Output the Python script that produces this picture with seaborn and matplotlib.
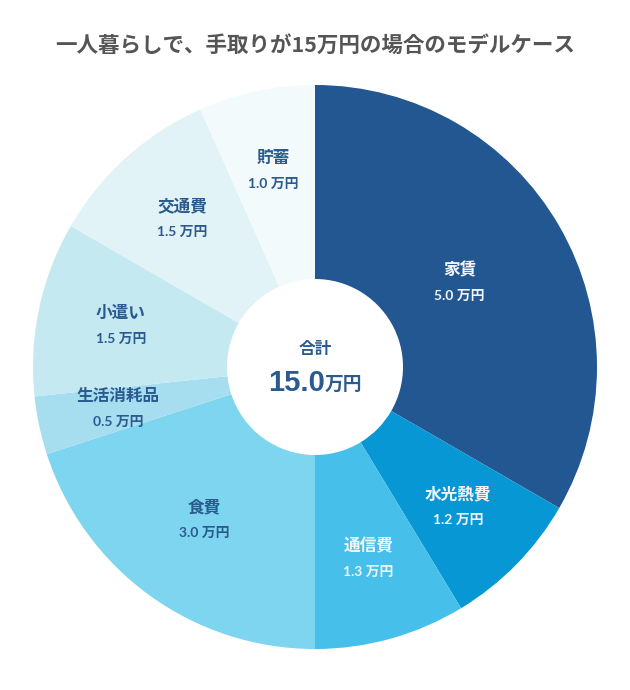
"""
Donut chart: monthly budget for a single person with 15万円 take-home pay
"""
import numpy as np
import matplotlib
matplotlib.use("Agg")
import matplotlib.pyplot as plt
import seaborn as sns

##################################################
#-----------------Data----------------------------
##################################################

categories = ["家賃", "水光熱費", "通信費", "食費", "生活消耗品", "小遣い", "交通費", "貯蓄"]
amounts = [5.0, 1.2, 1.3, 3.0, 0.5, 1.5, 1.5, 1.0]   # 万円
slice_colors = ["#235792", "#0897d5", "#46c0eb", "#7dd5ef",
                "#a6def0", "#c5e9f1", "#e2f3f8", "#f3fafc"]
light_text = ["家賃", "水光熱費", "通信費"]

title = "一人暮らしで、手取りが15万円の場合のモデルケース"
total_label = "合計"

##################################################
#-----------------Plot----------------------------
##################################################

sns.set_theme(style="white")
plt.rcParams["font.family"] = ["Noto Sans CJK JP", "DejaVu Sans"]

fig = plt.figure(figsize=(6.3, 6.9), dpi=100)
ax = fig.add_axes([33 / 630, 41 / 690, 564 / 630, 564 / 690])

palette = sns.color_palette(slice_colors)
hole = 88 / 282
width = 1 - hole

wedges, _ = ax.pie(amounts, colors=palette, startangle=90, counterclock=False,
                   radius=1, wedgeprops=dict(width=width, linewidth=0))
ax.set_xlim(-1, 1)
ax.set_ylim(-1, 1)
ax.set_aspect("equal")
ax.axis("off")

# labels at the centroid of each ring segment
R, r = 1.0, hole
base = (2 / 3) * (R**3 - r**3) / (R**2 - r**2)
total = sum(amounts)
cum = 0
for name, val in zip(categories, amounts):
    span = val / total * 2 * np.pi
    mid = np.pi / 2 - (cum + val / 2) / total * 2 * np.pi
    cum += val
    half = span / 2
    rc = base * np.sin(half) / half
    x, y = rc * np.cos(mid), rc * np.sin(mid)
    col = "#f2f4f7" if name in light_text else "#2b5a8f"
    ax.text(x, y + 0.045, name, ha="center", va="center", fontsize=12,
            fontweight="bold", color=col)
    ax.text(x, y - 0.045, f"{val:.1f} 万円", ha="center", va="center", fontsize=10,
            fontweight="bold", color=col, family=["Lato", "Noto Sans CJK JP"])

# center total
ax.text(0, 0.065, total_label, ha="center", va="center", fontsize=12,
        fontweight="bold", color="#2b5a8f")
ax.text(0.035, -0.055, f"{total:.1f}", ha="right", va="center", fontsize=21,
        fontweight="bold", color="#2b5a8f", family=["Liberation Sans", "DejaVu Sans"])
ax.text(0.035, -0.06, "万円", ha="left", va="center", fontsize=13.5,
        fontweight="bold", color="#2b5a8f")

fig.text(0.5, 1 - 45 / 690, title, ha="center", va="center", fontsize=15.5,
         fontweight="bold", color="#555555")

plt.savefig("out.png", dpi=100, facecolor="white")
